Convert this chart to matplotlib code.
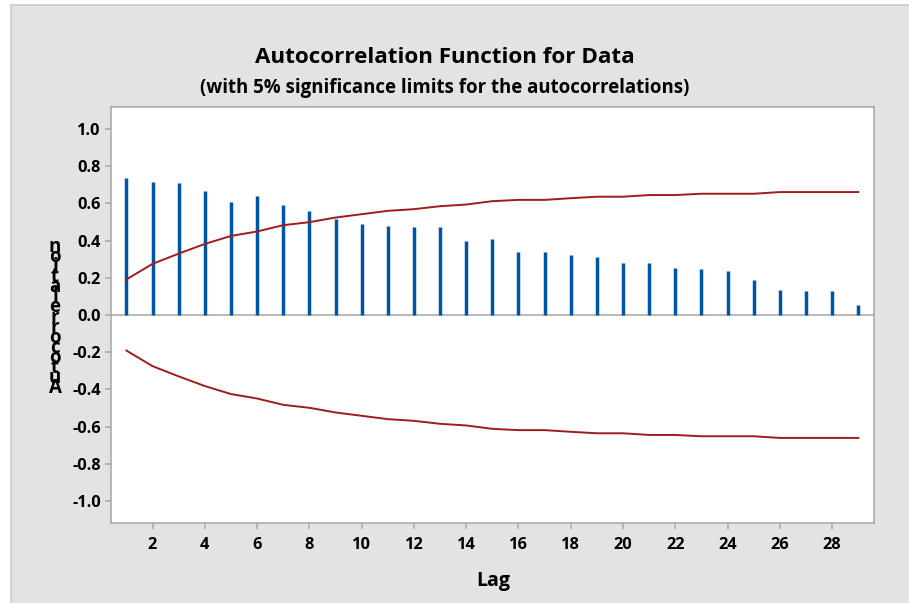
import matplotlib
matplotlib.use('Agg')
import matplotlib.pyplot as plt
from matplotlib.patches import Rectangle

# ACF values
lags = list(range(1, 30))
acf = [0.735, 0.717, 0.710, 0.667, 0.608, 0.642, 0.590, 0.558, 0.517, 0.490,
       0.481, 0.473, 0.473, 0.398, 0.406, 0.339, 0.339, 0.323, 0.314, 0.280,
       0.280, 0.255, 0.248, 0.239, 0.187, 0.137, 0.128, 0.128, 0.052]
upper = [0.191, 0.275, 0.330, 0.382, 0.425, 0.449, 0.483, 0.499, 0.524, 0.542,
         0.560, 0.569, 0.585, 0.594, 0.612, 0.619, 0.619, 0.628, 0.636, 0.636,
         0.645, 0.645, 0.652, 0.652, 0.652, 0.661, 0.661, 0.661, 0.661]
lower = [-u for u in upper]
yticks = [-1.0, -0.8, -0.6, -0.4, -0.2, 0.0, 0.2, 0.4, 0.6, 0.8, 1.0]
xticks = list(range(2, 29, 2))

W, H = 909, 603
font = 'Open Sans'
grey = '#a6a6a6'

fig = plt.figure(figsize=(W / 100, H / 100), dpi=100, facecolor='white')
# grey panel behind the graph
fig.patches.append(Rectangle((10.5 / W, -0.01), 1.0, 1 - 5 / H + 0.01, transform=fig.transFigure,
                             facecolor='#e3e3e3', edgecolor='#c9c9c9', linewidth=1.2, zorder=-10))

ax = fig.add_axes([110.7 / W, 1 - 523.3 / H, (874 - 110.7) / W, (523.3 - 106.7) / H])
ax.set_facecolor('white')
ax.vlines(lags, 0, acf, color='#0054a6', linewidth=2.5, zorder=3)
ax.plot(lags, upper, color='#a01c1c', linewidth=1.4, zorder=4)
ax.plot(lags, lower, color='#a01c1c', linewidth=1.4, zorder=4)
ax.axhline(0, color=grey, linewidth=1.1, zorder=2)

ax.set_xlim(0.4, 29.6)
ax.set_ylim(-1.12, 1.12)
ax.set_xticks(xticks)
ax.set_xticklabels([str(t) for t in xticks], fontfamily=font, fontweight='bold', fontsize=11.8)
ax.set_yticks(yticks)
ax.set_yticklabels(['%.1f' % t for t in yticks], fontfamily=font, fontweight='bold', fontsize=11.8)
ax.tick_params(axis='both', color=grey, length=4, width=1.1)
ax.tick_params(axis='x', pad=6)
ax.tick_params(axis='y', pad=3)
for s in ax.spines.values():
    s.set_color(grey)
    s.set_linewidth(1.1)

fig.text(445 / W, 1 - 63 / H, 'Autocorrelation Function for Data', ha='center', va='baseline',
         fontfamily=font, fontweight='bold', fontsize=16.1)
fig.text(445 / W, 1 - 92.5 / H, '(with 5% significance limits for the autocorrelations)',
         ha='center', va='baseline', fontfamily=font, fontweight='bold', fontsize=13.4)
fig.text(493 / W, 1 - 586 / H, 'Lag', ha='center', va='baseline',
         fontfamily=font, fontweight='bold', fontsize=14)

# y label drawn as in the reference: upright letters stacked bottom to top
for i, ch in enumerate('Autocorrelation'):
    fig.text(55 / W, 1 - (393.3 - i * 10.1) / H, ch, ha='center', va='baseline',
             fontfamily=font, fontweight='bold', fontsize=13.5)

fig.savefig('out.png', dpi=100, facecolor='white')
